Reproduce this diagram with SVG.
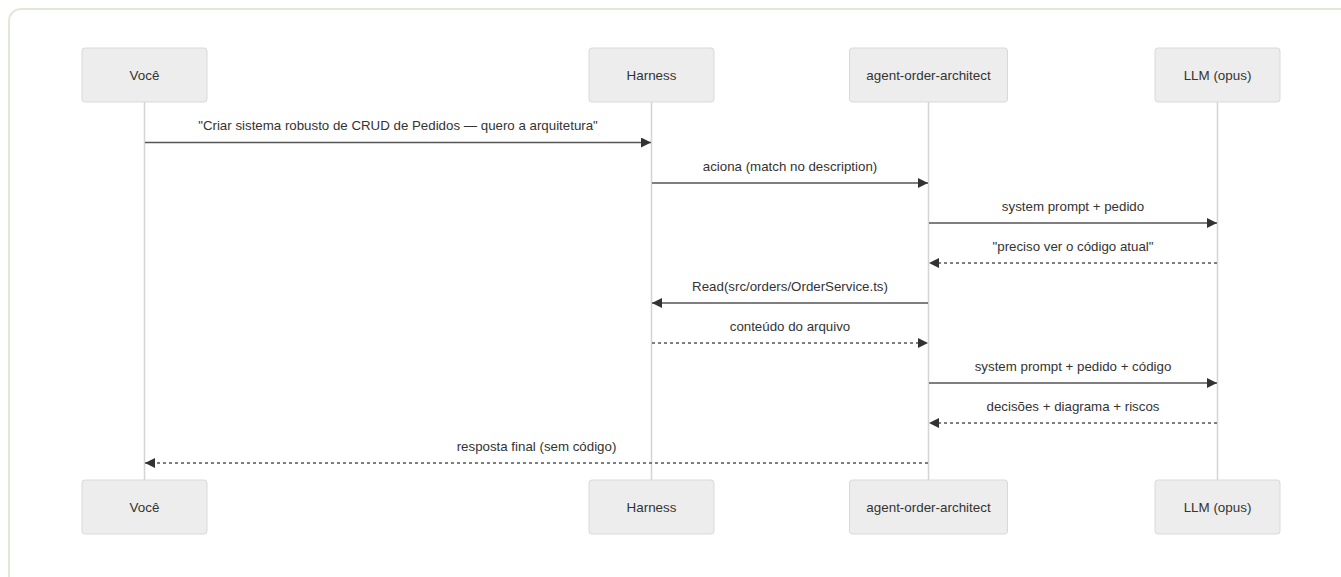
<svg xmlns="http://www.w3.org/2000/svg" width="1341" height="577" viewBox="0 0 1341 577">
<style>
.frame{fill:#ffffff;stroke:#e0e8d6;stroke-width:2}
.actor{fill:#ededed;stroke:#d9d9d9;stroke-width:1}
.atext{font-family:"Liberation Sans",Arial,sans-serif;font-size:13.4px;fill:#333;text-anchor:middle;dominant-baseline:central}
.life{stroke:#d4d4d4;stroke-width:1.5}
.msg{stroke:#555;stroke-width:1.5;fill:none}
.dash{stroke-dasharray:3,3}
.mtext{font-family:"Liberation Sans",Arial,sans-serif;font-size:13.3px;fill:#333;text-anchor:middle}
</style>
<defs>
<marker id="arrow" viewBox="0 0 10 10" refX="10" refY="5" markerUnits="userSpaceOnUse" markerWidth="10" markerHeight="10" orient="auto">
<path d="M0,0 L10,5 L0,10 z" fill="#333"/>
</marker>
</defs>
<rect class="frame" x="9" y="9" width="1360" height="600" rx="12"/>
<g id="lifelines">
<line class="life" x1="144.5" y1="102" x2="144.5" y2="480"/>
<line class="life" x1="651.5" y1="102" x2="651.5" y2="480"/>
<line class="life" x1="928.5" y1="102" x2="928.5" y2="480"/>
<line class="life" x1="1217.5" y1="102" x2="1217.5" y2="480"/>
</g>
<g id="voce-top"><rect class="actor" x="82" y="48" width="125" height="54" rx="3"/><text class="atext" x="144.5" y="75">Você</text></g>
<g id="harness-top"><rect class="actor" x="589" y="48" width="125" height="54" rx="3"/><text class="atext" x="651.5" y="75">Harness</text></g>
<g id="agent-top"><rect class="actor" x="849.5" y="48" width="158" height="54" rx="3"/><text class="atext" x="928.5" y="75">agent-order-architect</text></g>
<g id="llm-top"><rect class="actor" x="1155" y="48" width="125" height="54" rx="3"/><text class="atext" x="1217.5" y="75">LLM (opus)</text></g>
<g id="voce-bottom"><rect class="actor" x="82" y="480" width="125" height="54" rx="3"/><text class="atext" x="144.5" y="507">Você</text></g>
<g id="harness-bottom"><rect class="actor" x="589" y="480" width="125" height="54" rx="3"/><text class="atext" x="651.5" y="507">Harness</text></g>
<g id="agent-bottom"><rect class="actor" x="849.5" y="480" width="158" height="54" rx="3"/><text class="atext" x="928.5" y="507">agent-order-architect</text></g>
<g id="llm-bottom"><rect class="actor" x="1155" y="480" width="125" height="54" rx="3"/><text class="atext" x="1217.5" y="507">LLM (opus)</text></g>
<g id="connectors">
<line class="msg" x1="145" y1="142.5" x2="651" y2="142.5" marker-end="url(#arrow)"/>
<text class="mtext" x="398" y="130">"Criar sistema robusto de CRUD de Pedidos — quero a arquitetura"</text>
<line class="msg" x1="652" y1="183" x2="928" y2="183" marker-end="url(#arrow)"/>
<text class="mtext" x="790" y="171">aciona (match no description)</text>
<line class="msg" x1="929" y1="223" x2="1217" y2="223" marker-end="url(#arrow)"/>
<text class="mtext" x="1073" y="211">system prompt + pedido</text>
<line class="msg dash" x1="1217" y1="263" x2="929" y2="263" marker-end="url(#arrow)"/>
<text class="mtext" x="1073" y="251">"preciso ver o código atual"</text>
<line class="msg" x1="928" y1="303" x2="652" y2="303" marker-end="url(#arrow)"/>
<text class="mtext" x="790" y="291">Read(src/orders/OrderService.ts)</text>
<line class="msg dash" x1="652" y1="343" x2="928" y2="343" marker-end="url(#arrow)"/>
<text class="mtext" x="790" y="331">conteúdo do arquivo</text>
<line class="msg" x1="929" y1="383" x2="1217" y2="383" marker-end="url(#arrow)"/>
<text class="mtext" x="1073" y="371">system prompt + pedido + código</text>
<line class="msg dash" x1="1217" y1="423" x2="929" y2="423" marker-end="url(#arrow)"/>
<text class="mtext" x="1073" y="411">decisões + diagrama + riscos</text>
<line class="msg dash" x1="928" y1="463" x2="145" y2="463" marker-end="url(#arrow)"/>
<text class="mtext" x="536.5" y="451">resposta final (sem código)</text>
</g>
</svg>
